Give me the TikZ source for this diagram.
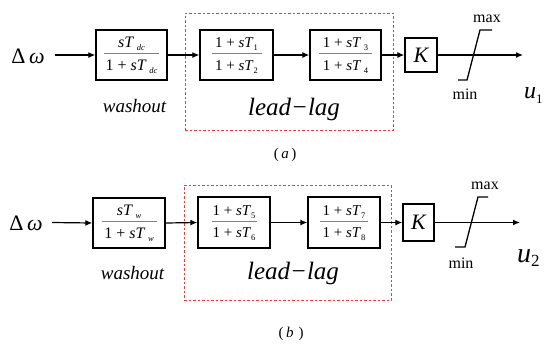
\documentclass[tikz,border=0pt]{standalone}
\usepackage{fontspec}
\setmainfont{Liberation Serif}
\usetikzlibrary{arrows.meta}
\newcommand{\subx}[1]{\raisebox{-0.45ex}{\fontsize{8.5}{8.5}\selectfont #1}}
\newcommand{\fracblk}[9]{%
  \node[blk, minimum width=#4pt, minimum height=#5pt] (#1) at (#2,#3) {};
  \node[ftxt, font=#9] (#1n) at (#2,#3-7.5) {#6};
  \draw[fbar] (#2-#8/2,#3-1.5) -- (#2+#8/2,#3-1.5);
  \node[ftxt, font=#9] (#1d) at (#2,#3+15) {#7};
}
\begin{document}
\begin{tikzpicture}[x=1pt,y=-1pt,
  blk/.style={draw, line width=1.4pt, inner sep=0pt},
  ftxt/.style={anchor=base, inner sep=0pt},
  fbar/.style={draw=gray, line width=1pt},
  arr/.style={line width=1.2pt, -{Latex[length=7pt,width=6pt]}},
  llbox/.style={draw=red!80, dashed, dash pattern=on 2.5pt off 2pt, line width=0.9pt, inner sep=0pt},
  lbl/.style={inner sep=0pt, anchor=base},
  sat/.style={line width=1.3pt}]
\useasboundingbox (0,0) rectangle (545,343);

% ---------------- (a) ----------------
\node[lbl, font=\fontsize{22}{22}\selectfont] (dwa) at (28,63) {Δ\,\textit{ω}};
\fracblk{wa}{131.5}{55}{71}{50}{\textit{sT}\,\subx{\textit{dc}}}{1 + \textit{sT}\,\subx{\textit{dc}}}{55}{\fontsize{16}{16}\selectfont}
\fracblk{a1}{236.5}{55}{73}{50}{1 + \textit{sT}\subx{1}}{1 + \textit{sT}\subx{2}}{50}{\fontsize{15}{15}\selectfont}
\fracblk{a2}{345.5}{55}{71}{50}{1 + \textit{sT}\,\subx{3}}{1 + \textit{sT}\,\subx{4}}{53}{\fontsize{15}{15}\selectfont}
\node[blk, minimum width=32pt, minimum height=34pt, font=\fontsize{22}{22}\selectfont\itshape] (ka) at (421,55) {K};
\node[llbox, minimum width=208pt, minimum height=117pt] (lla) at (289,71.5) {};
\node[lbl, font=\fontsize{19}{19}\selectfont\itshape] (woa) at (134.5,112) {washout};
\node[lbl, font=\fontsize{25}{25}\selectfont\itshape] (lga) at (294,115) {lead−lag};
\node[lbl, font=\fontsize{15}{15}\selectfont] (capa) at (285,158) {(\,\textit{a}\,)};
\coordinate (enda) at (523,55);
\draw[arr] (55,55) -- (wa.west);
\draw[arr] (wa.east) -- (a1.west);
\draw[arr] (a1.east) -- (a2.west);
\draw[arr] (a2.east) -- (ka.west);
\draw[arr] (ka.east) -- (enda);
\draw[sat] (458,80) -- (467,80) -- (480,30) -- (492,30);
\node[lbl, font=\fontsize{16}{16}\selectfont] (maxa) at (487,22) {max};
\node[lbl, font=\fontsize{16}{16}\selectfont] (mina) at (465,99) {min};
\node[lbl, anchor=base west, font=\fontsize{24}{24}\selectfont] (ua) at (524,98) {\textit{u}\raisebox{-5pt}{\fontsize{13}{13}\selectfont 1}};

% ---------------- (b) ----------------
\node[lbl, font=\fontsize{22}{22}\selectfont] (dwb) at (26,230) {Δ\,\textit{ω}};
\fracblk{wb}{129}{223}{72}{50}{\textit{sT}\,\subx{\textit{w}}}{1 + \textit{sT}\,\subx{\textit{w}}}{55}{\fontsize{16}{16}\selectfont}
\fracblk{b1}{234}{222.5}{72}{51}{1 + \textit{sT}\subx{5}}{1 + \textit{sT}\subx{6}}{45}{\fontsize{15}{15}\selectfont}
\fracblk{b2}{344}{222.5}{72}{51}{1 + \textit{sT}\subx{7}}{1 + \textit{sT}\subx{8}}{48}{\fontsize{15}{15}\selectfont}
\node[blk, minimum width=31pt, minimum height=37pt, font=\fontsize{22}{22}\selectfont\itshape] (kb) at (418.5,222.5) {K};
\node[llbox, minimum width=207pt, minimum height=115pt] (llb) at (287.5,242.5) {};
\node[lbl, font=\fontsize{19}{19}\selectfont\itshape] (wob) at (132.5,279) {washout};
\node[lbl, font=\fontsize{25}{25}\selectfont\itshape] (lgb) at (293,279) {lead−lag};
\node[lbl, font=\fontsize{15}{15}\selectfont] (capb) at (291,337) {(\,\textit{b}\,\,)};
\coordinate (endb) at (520,222.5);
\draw[arr] (52,222.5) -- (wb.west);
\draw[arr] (wb.east) -- (b1.west);
\draw[arr] (b1.east) -- (b2.west);
\draw[arr] (b2.east) -- (kb.west);
\draw[arr] (kb.east) -- (endb);
\draw[sat] (455,247) -- (465,247) -- (478,197) -- (488,197);
\node[lbl, font=\fontsize{16}{16}\selectfont] (maxb) at (485,189) {max};
\node[lbl, font=\fontsize{16}{16}\selectfont] (minb) at (461,268) {min};
\node[lbl, anchor=base west, font=\fontsize{28}{28}\selectfont] (ub) at (517,262) {\textit{u}\raisebox{-4pt}{\fontsize{17}{17}\selectfont 2}};
\end{tikzpicture}
\end{document}
